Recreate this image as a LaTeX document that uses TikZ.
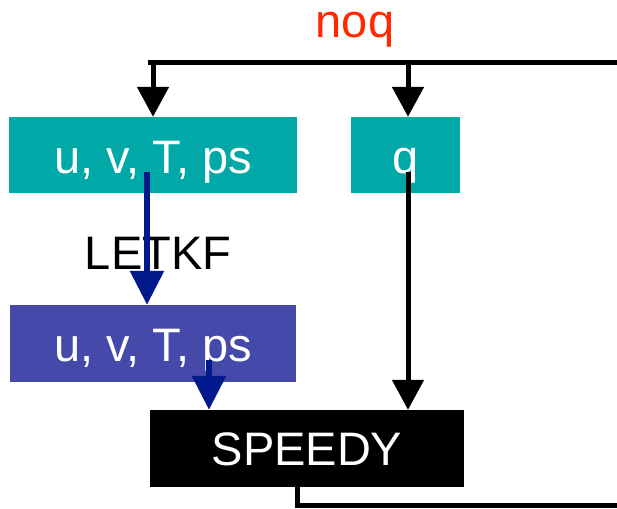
\documentclass[tikz,border=0pt]{standalone}
\usepackage{fontspec}
\setmainfont{Liberation Sans}
\usetikzlibrary{arrows.meta}
\definecolor{tealbox}{RGB}{0,168,168}
\definecolor{bluebox}{RGB}{69,73,170}
\definecolor{arrowblue}{RGB}{0,26,140}
\definecolor{noqred}{RGB}{255,40,0}
\begin{document}
\begin{tikzpicture}[x=1pt,y=-1pt,
  bigfont/.style={font=\fontsize{47}{50}\selectfont},
  boxnode/.style={bigfont,text=white,inner sep=0pt,text height=36pt,text depth=0pt},
  blk/.style={line width=5pt,draw=black,-{Triangle[width=31pt,length=30pt]}},
  blu/.style={line width=6pt,draw=arrowblue,-{Triangle[width=33pt,length=34pt]}},
  plainline/.style={line width=5pt,draw=black}]
\useasboundingbox (0,0) rectangle (617,508);
\node[boxnode,fill=tealbox,minimum width=288pt,minimum height=76pt] (top) at (153,155) {u, v, T, ps};
\node[boxnode,fill=tealbox,minimum width=109pt,minimum height=76pt] (q) at (405.5,155) {q};
\node[boxnode,fill=bluebox,minimum width=286pt,minimum height=77pt] (ana) at (153,343.5) {u, v, T, ps};
\node[boxnode,fill=black,minimum width=314pt,minimum height=77pt,text height=33pt] (speedy) at (307,448.5) {SPEEDY};
\node[bigfont,text=noqred,anchor=base,inner sep=0pt] (noq) at (355,38) {noq};
\node[bigfont,text=black,anchor=base,inner sep=0pt] (letkf) at (158,269) {LETKF};
\coordinate (tl) at (148,63);
\coordinate (tr) at (617,63);
\coordinate (bl) at (297,505);
\coordinate (br) at (617,505);
\draw[plainline] (tl) -- (tr);
\draw[blk] (153,63) -- (top.north -| 153,0);
\draw[blk] (408,63) -- (q.north -| 408,0);
\draw[blk] (408,172) -- (speedy.north -| 408,0);
\draw[blu] (147,172) -- (ana.north -| 147,0);
\draw[blu] (209,360) -- (speedy.north -| 209,0);
\draw[plainline] (speedy.south -| bl) -- (bl) -- (br);
\end{tikzpicture}
\end{document}
